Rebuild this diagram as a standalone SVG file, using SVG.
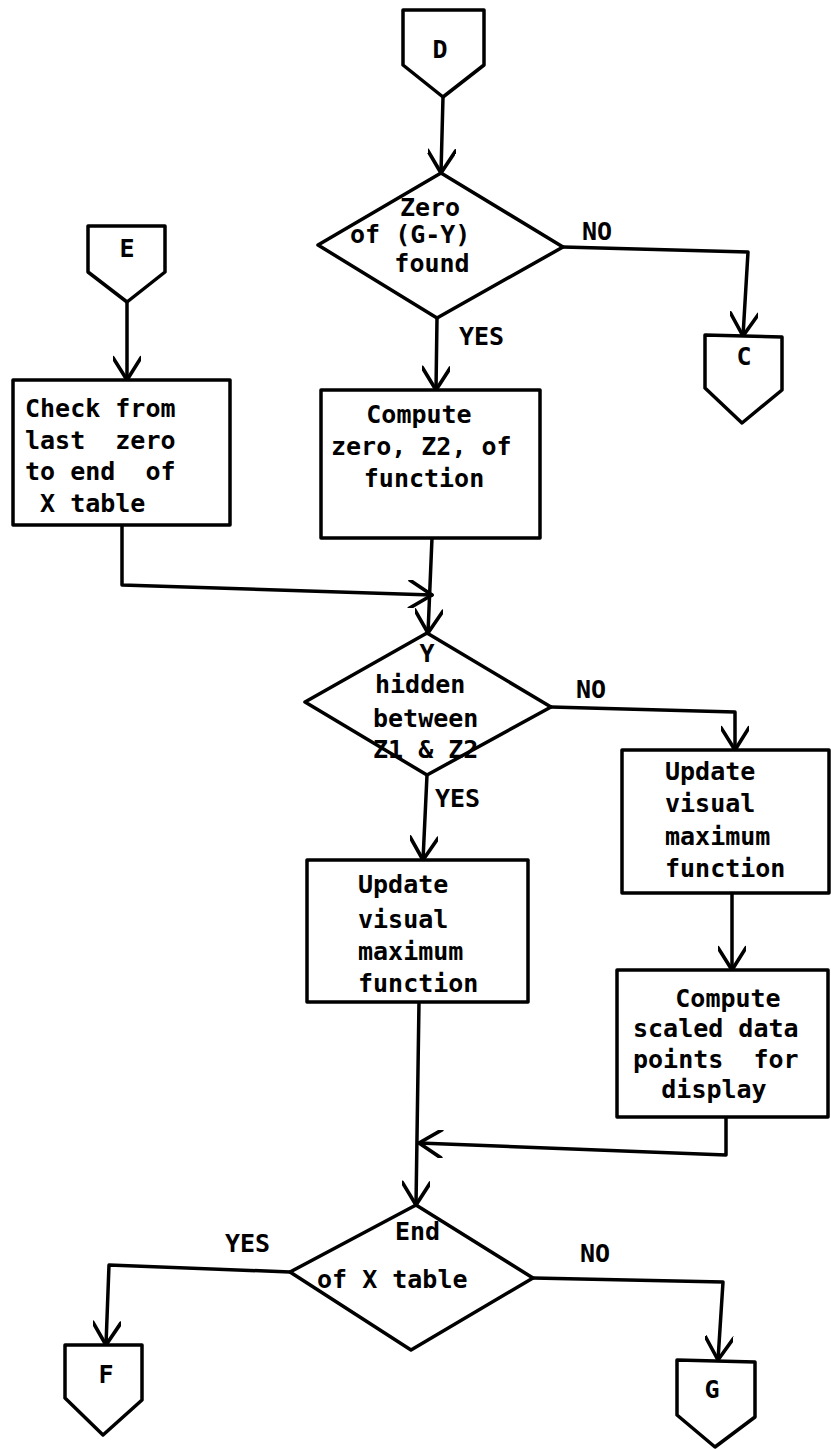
<svg xmlns="http://www.w3.org/2000/svg" width="831" height="1449" viewBox="0 0 831 1449">
<style>
.s{fill:none;stroke:#000;stroke-width:3.5;stroke-linejoin:round;stroke-linecap:round}
.n{fill:#fff;stroke:#000;stroke-width:3.5;stroke-linejoin:round}
text{font-family:"DejaVu Sans Mono","Liberation Mono",monospace;font-weight:bold;font-size:25px;fill:#000}
.m{text-anchor:middle}
</style>
<defs>
<marker id="ah" viewBox="0 0 20 20" refX="18" refY="10" markerWidth="28" markerHeight="28" markerUnits="userSpaceOnUse" orient="auto">
<path d="M2,0 L18,10 L2,20" fill="none" stroke="#000" stroke-width="2.6" stroke-linecap="round" stroke-linejoin="round"/>
</marker>
</defs>
<rect width="831" height="1449" fill="#fff"/>
<g id="connectors">
<path class="s" d="M443,97 L441,173" marker-end="url(#ah)"/>
<path class="s" d="M563,247 L748,252 L743,336" marker-end="url(#ah)"/>
<path class="s" d="M437,318 L436,390" marker-end="url(#ah)"/>
<path class="s" d="M127,302 L127,380" marker-end="url(#ah)"/>
<path class="s" d="M122,525 L122,585 L432,595" marker-end="url(#ah)"/>
<path class="s" d="M432,538 L428,633" marker-end="url(#ah)"/>
<path class="s" d="M551,707 L735,712 L735,750" marker-end="url(#ah)"/>
<path class="s" d="M427,775 L423,860" marker-end="url(#ah)"/>
<path class="s" d="M732,893 L732,970" marker-end="url(#ah)"/>
<path class="s" d="M419,1002 L416,1205" marker-end="url(#ah)"/>
<path class="s" d="M726,1117 L726,1155 L419,1143" marker-end="url(#ah)"/>
<path class="s" d="M290,1272 L109,1265 L106,1345" marker-end="url(#ah)"/>
<path class="s" d="M533,1278 L723,1282 L718,1360" marker-end="url(#ah)"/>
</g>
<g id="labels">
<text x="582" y="240">NO</text>
<text x="459" y="345">YES</text>
<text x="576" y="698">NO</text>
<text x="435" y="807">YES</text>
<text x="225" y="1252">YES</text>
<text x="580" y="1262">NO</text>
</g>
<g id="D"><polygon class="n" points="403,10 484,10 484,65 443,97 403,65"/><text class="m" x="440" y="58">D</text></g>
<g id="E"><polygon class="n" points="88,226 165,226 165,272 127,302 88,272"/><text class="m" x="127" y="257">E</text></g>
<g id="C"><polygon class="n" points="705,335 782,337 782,390 742,423 705,388"/><text class="m" x="744" y="365">C</text></g>
<g id="F"><polygon class="n" points="65,1345 142,1345 142,1400 103,1435 65,1398"/><text class="m" x="106" y="1383">F</text></g>
<g id="G"><polygon class="n" points="677,1360 755,1362 755,1417 715,1447 677,1415"/><text class="m" x="712" y="1398">G</text></g>
<g id="dec1"><polygon class="n" points="441,173 563,247 437,318 318,245"/>
<text class="m" x="430" y="216">Zero</text>
<text x="350" y="243">of (G-Y)</text>
<text class="m" x="432" y="272">found</text></g>
<g id="check"><rect class="n" x="13" y="380" width="217" height="145"/>
<text x="25" y="417" xml:space="preserve">Check from</text>
<text x="25" y="449" xml:space="preserve">last  zero</text>
<text x="25" y="480" xml:space="preserve">to end  of</text>
<text x="25" y="512" xml:space="preserve"> X table</text></g>
<g id="compute"><rect class="n" x="321" y="390" width="219" height="148"/>
<text class="m" x="419" y="423">Compute</text>
<text x="331" y="455">zero, Z2, of</text>
<text class="m" x="424" y="487">function</text></g>
<g id="dec2"><polygon class="n" points="427,633 551,707 427,775 305,702"/>
<text class="m" x="427" y="662">Y</text>
<text x="375" y="693">hidden</text>
<text x="373" y="727">between</text>
<text x="373" y="758">Z1 &amp; Z2</text></g>
<g id="updateL"><rect class="n" x="307" y="860" width="221" height="142"/>
<text x="358" y="893">Update</text>
<text x="358" y="928">visual</text>
<text x="358" y="960">maximum</text>
<text x="358" y="992">function</text></g>
<g id="updateR"><rect class="n" x="622" y="750" width="207" height="143"/>
<text x="665" y="780">Update</text>
<text x="665" y="812">visual</text>
<text x="665" y="845">maximum</text>
<text x="665" y="877">function</text></g>
<g id="scaled"><rect class="n" x="617" y="970" width="211" height="147"/>
<text class="m" x="728" y="1007">Compute</text>
<text x="633" y="1037">scaled data</text>
<text x="633" y="1068" xml:space="preserve">points  for</text>
<text class="m" x="714" y="1098">display</text></g>
<g id="dec3"><polygon class="n" points="416,1205 533,1278 411,1350 290,1272"/>
<text x="395" y="1240">End</text>
<text x="317" y="1288">of X table</text></g>
</svg>
